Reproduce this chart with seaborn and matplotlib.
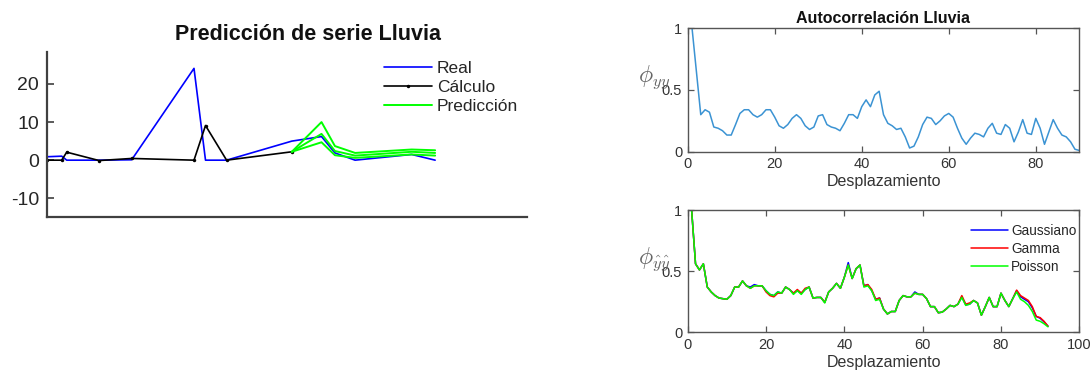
import numpy as np
import pandas as pd
import matplotlib
matplotlib.use("Agg")
import matplotlib.pyplot as plt
import seaborn as sns

# ---------------- data ----------------
# Left chart: prediction of rainfall series
t_real = [0, 3.0, 4.05, 10.8, 17.6, 30.6, 33.0, 37.4, 51.0, 57.2, 60.0, 64.2, 76.0, 80.9]
real = [0.9, 1.05, 0.0, 0.0, 0.1, 24.1, 0.0, 0.0, 5.0, 6.2, 1.9, 0.0, 1.5, 0.0]
t_calc = [0, 3.0, 4.05, 10.8, 17.6, 30.6, 33.0, 37.4, 51.0]
calculo = [0.0, 0.0, 2.1, -0.1, 0.45, 0.0, 9.1, 0.0, 2.2]
t_pred = [51.0, 57.2, 60.0, 64.2, 76.0, 80.9]
pred_upper = [2.2, 10.0, 3.7, 1.9, 2.8, 2.6]
pred_mid = [2.2, 6.9, 2.4, 1.2, 2.2, 1.9]
pred_lower = [2.2, 4.7, 1.3, 0.6, 1.5, 1.2]
left_yticks = [-10, 0, 10, 20]

# Right top: autocorrelation of rainfall (lags 1..90)
acf_lluvia = [
    1.00, 0.65, 0.30, 0.34, 0.32, 0.20, 0.19, 0.17, 0.135, 0.135,
    0.22, 0.31, 0.34, 0.34, 0.30, 0.28, 0.30, 0.34, 0.34, 0.28,
    0.21, 0.19, 0.22, 0.27, 0.30, 0.27, 0.21, 0.18, 0.20, 0.29,
    0.30, 0.22, 0.20, 0.19, 0.17, 0.23, 0.30, 0.30, 0.27, 0.365,
    0.42, 0.365, 0.46, 0.49, 0.30, 0.23, 0.21, 0.18, 0.19, 0.12,
    0.03, 0.045, 0.12, 0.22, 0.28, 0.27, 0.22, 0.25, 0.29, 0.31,
    0.28, 0.19, 0.11, 0.06, 0.11, 0.15, 0.14, 0.12, 0.19, 0.23,
    0.15, 0.14, 0.22, 0.19, 0.08, 0.16, 0.26, 0.15, 0.14, 0.27,
    0.19, 0.06, 0.16, 0.26, 0.19, 0.135, 0.12, 0.08, 0.02, 0.01,
]

# Right bottom: autocorrelation of simulated series (lags 1..92)
acf_gaussiano = [
    1.00, 0.56, 0.51, 0.56, 0.37, 0.33, 0.30, 0.28, 0.275, 0.27,
    0.30, 0.37, 0.37, 0.42, 0.38, 0.37, 0.39, 0.38, 0.38, 0.34,
    0.31, 0.30, 0.33, 0.32, 0.37, 0.35, 0.32, 0.34, 0.32, 0.35,
    0.37, 0.28, 0.285, 0.285, 0.245, 0.33, 0.36, 0.40, 0.36, 0.45,
    0.57, 0.44, 0.52, 0.55, 0.38, 0.39, 0.34, 0.27, 0.28, 0.19,
    0.15, 0.17, 0.17, 0.26, 0.30, 0.29, 0.29, 0.33, 0.31, 0.31,
    0.275, 0.21, 0.21, 0.16, 0.165, 0.19, 0.22, 0.21, 0.23, 0.29,
    0.225, 0.23, 0.26, 0.24, 0.14, 0.21, 0.285, 0.21, 0.21, 0.32,
    0.26, 0.21, 0.275, 0.34, 0.29, 0.27, 0.25, 0.20, 0.13, 0.115,
    0.085, 0.05,
]
acf_gamma = [
    1.00, 0.56, 0.51, 0.56, 0.37, 0.33, 0.30, 0.28, 0.275, 0.27,
    0.30, 0.37, 0.37, 0.42, 0.38, 0.36, 0.38, 0.38, 0.38, 0.33,
    0.30, 0.29, 0.32, 0.32, 0.37, 0.35, 0.32, 0.35, 0.32, 0.36,
    0.37, 0.28, 0.285, 0.285, 0.245, 0.33, 0.36, 0.40, 0.36, 0.45,
    0.55, 0.44, 0.52, 0.55, 0.38, 0.39, 0.35, 0.27, 0.28, 0.19,
    0.15, 0.17, 0.17, 0.26, 0.30, 0.29, 0.29, 0.32, 0.31, 0.31,
    0.275, 0.21, 0.21, 0.16, 0.165, 0.19, 0.22, 0.21, 0.23, 0.30,
    0.23, 0.24, 0.26, 0.24, 0.14, 0.21, 0.285, 0.21, 0.21, 0.32,
    0.26, 0.21, 0.275, 0.345, 0.30, 0.28, 0.26, 0.21, 0.13, 0.12,
    0.09, 0.05,
]
acf_poisson = [
    1.00, 0.56, 0.51, 0.56, 0.37, 0.33, 0.30, 0.28, 0.275, 0.27,
    0.30, 0.37, 0.37, 0.42, 0.38, 0.36, 0.38, 0.38, 0.38, 0.34,
    0.31, 0.30, 0.33, 0.32, 0.37, 0.35, 0.31, 0.34, 0.31, 0.35,
    0.37, 0.28, 0.285, 0.285, 0.24, 0.33, 0.36, 0.40, 0.36, 0.45,
    0.55, 0.44, 0.52, 0.55, 0.37, 0.38, 0.34, 0.26, 0.27, 0.19,
    0.15, 0.17, 0.17, 0.26, 0.30, 0.29, 0.29, 0.32, 0.31, 0.31,
    0.275, 0.21, 0.21, 0.16, 0.165, 0.19, 0.22, 0.21, 0.23, 0.285,
    0.22, 0.23, 0.26, 0.24, 0.14, 0.21, 0.285, 0.21, 0.21, 0.32,
    0.26, 0.21, 0.275, 0.33, 0.27, 0.25, 0.22, 0.17, 0.10, 0.09,
    0.07, 0.045,
]

# ---------------- style ----------------
sns.set_style("white")
plt.rcParams["font.family"] = ["Liberation Sans", "DejaVu Sans"]
plt.rcParams["mathtext.fontset"] = "cm"
plt.rcParams["axes.unicode_minus"] = False

W, H = 1092, 379
fig = plt.figure(figsize=(W / 100, H / 100), dpi=100)


def px_box(x0, y0, x1, y1):
    return [x0 / W, 1 - y1 / H, (x1 - x0) / W, (y1 - y0) / H]


# ---------------- left chart ----------------
ax1 = fig.add_axes(px_box(47.3, 52, 526.7, 217.3))
sns.lineplot(x=t_real, y=real, ax=ax1, color=(0, 0, 1), lw=1.2, label="Real",
             errorbar=None)
sns.lineplot(x=t_calc, y=calculo, ax=ax1, color="black", lw=1.2, marker="o",
             markersize=2.5, markeredgewidth=0, label="Cálculo", errorbar=None)
sns.lineplot(x=t_pred, y=pred_upper, ax=ax1, color=(0, 1, 0), lw=1.4,
             label="Predicción", errorbar=None)
sns.lineplot(x=t_pred, y=pred_mid, ax=ax1, color=(0, 1, 0), lw=1.4,
             legend=False, errorbar=None)
sns.lineplot(x=t_pred, y=pred_lower, ax=ax1, color=(0, 1, 0), lw=1.4,
             legend=False, errorbar=None)
ax1.set_xlim(0, 100)
ax1.set_ylim(-15, 28.4)
ax1.set_yticks(left_yticks)
ax1.set_xticks([])
for s in ["top", "right"]:
    ax1.spines[s].set_visible(False)
for s in ["left", "bottom"]:
    ax1.spines[s].set_color("#404040")
    ax1.spines[s].set_linewidth(1.6)
ax1.tick_params(axis="y", direction="in", length=5, width=1.2, color="#404040",
                labelsize=14, labelcolor="#262626", pad=6, left=True)
ax1.set_xlabel("")
ax1.set_ylabel("")
handles, labels = ax1.get_legend_handles_labels()
ax1.legend(handles[:3], labels[:3], loc="upper left",
           bbox_to_anchor=(384 / W, 1 - 61 / H), bbox_transform=fig.transFigure,
           frameon=False, fontsize=12.5, handlelength=2.75, handletextpad=0.3,
           labelspacing=0.22, borderpad=0, borderaxespad=0)
fig.text(308 / W, 1 - 35 / H, "Predicción de serie Lluvia", ha="center",
         va="center", fontsize=15.5, fontweight="bold", color="#111111")


def style_box(ax):
    for s in ax.spines.values():
        s.set_visible(True)
        s.set_color("#555555")
        s.set_linewidth(1.0)
    ax.tick_params(direction="in", length=4, width=0.9, color="#555555",
                   labelsize=10.5, labelcolor="#333333", top=True, right=True,
                   bottom=True, left=True, pad=4)


# ---------------- right top ----------------
ax2 = fig.add_axes(px_box(687.7, 28.3, 1079.3, 151.7))
lags_y = list(range(1, len(acf_lluvia) + 1))
sns.lineplot(x=lags_y, y=acf_lluvia, ax=ax2, color="#3b93d3", lw=1.1,
             errorbar=None)
ax2.set_xlim(0, 90)
ax2.set_ylim(0, 1)
ax2.set_xticks([0, 20, 40, 60, 80])
ax2.set_yticks([0, 0.5, 1])
ax2.set_yticklabels(["0", "0.5", "1"])
style_box(ax2)
ax2.set_xlabel("Desplazamiento", fontsize=11.5, color="#333333", labelpad=2)
ax2.set_ylabel("")
ax2.set_title("Autocorrelación Lluvia", fontsize=11.5, fontweight="bold",
              color="#111111", pad=4)
fig.text(654 / W, 1 - 77 / H, r"$\phi_{yy}$", ha="center", va="center",
         fontsize=17, color="#666666")

# ---------------- right bottom ----------------
ax3 = fig.add_axes(px_box(687.7, 210, 1079.3, 332.3))
lags_s = list(range(1, len(acf_poisson) + 1))
sns.lineplot(x=lags_s, y=acf_gaussiano, ax=ax3, color=(0, 0, 1), lw=1.1,
             label="Gaussiano", errorbar=None)
sns.lineplot(x=lags_s, y=acf_gamma, ax=ax3, color=(1, 0, 0), lw=1.1,
             label="Gamma", errorbar=None)
sns.lineplot(x=lags_s, y=acf_poisson, ax=ax3, color=(0, 1, 0), lw=1.1,
             label="Poisson", errorbar=None)
ax3.set_xlim(0, 100)
ax3.set_ylim(0, 1)
ax3.set_xticks([0, 20, 40, 60, 80, 100])
ax3.set_yticks([0, 0.5, 1])
ax3.set_yticklabels(["0", "0.5", "1"])
style_box(ax3)
ax3.set_xlabel("Desplazamiento", fontsize=11.5, color="#333333", labelpad=2)
ax3.set_ylabel("")
ax3.legend(loc="upper left", bbox_to_anchor=(971 / W, 1 - 224 / H),
           bbox_transform=fig.transFigure, frameon=False, fontsize=9.8,
           handlelength=2.7, handletextpad=0.25, labelspacing=0.3,
           borderpad=0, borderaxespad=0)
fig.text(654 / W, 1 - 259 / H, r"$\phi_{\hat{y}\hat{y}}$", ha="center",
         va="center", fontsize=17, color="#666666")

fig.savefig("out.png", dpi=100, facecolor="white")
